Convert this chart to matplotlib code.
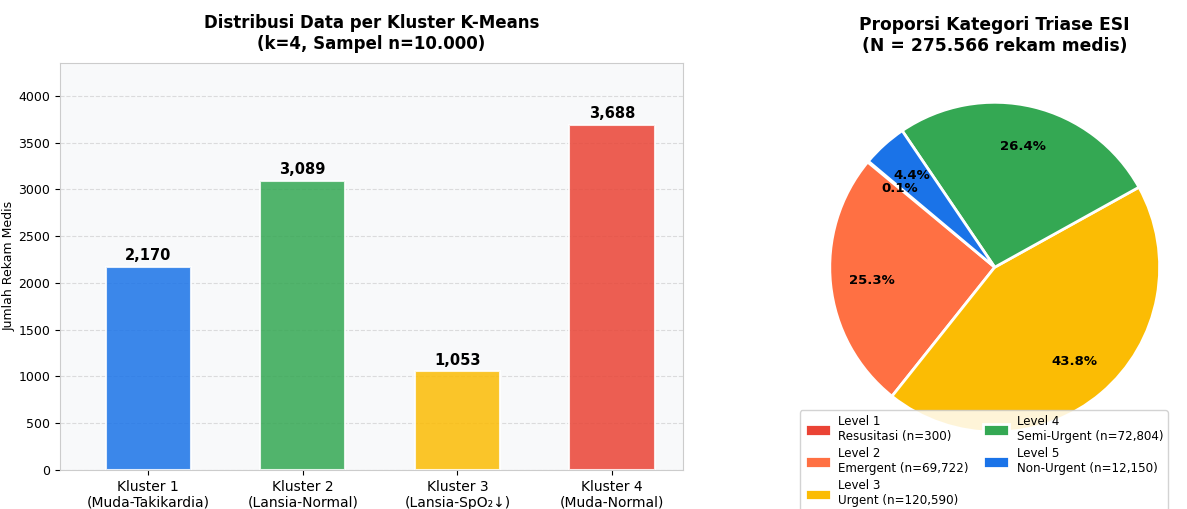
import numpy as np
import matplotlib.pyplot as plt

# data
clusters = ['Kluster 1\n(Muda-Takikardia)', 'Kluster 2\n(Lansia-Normal)',
            'Kluster 3\n(Lansia-SpO₂↓)', 'Kluster 4\n(Muda-Normal)']
cluster_counts = [2170, 3089, 1053, 3688]
cluster_colors = ['#1A73E8', '#34A853', '#FBBC04', '#EA4335']

esi_levels = ['Level 1\nResusitasi (n=300)', 'Level 2\nEmergent (n=69,722)',
              'Level 3\nUrgent (n=120,590)', 'Level 4\nSemi-Urgent (n=72,804)',
              'Level 5\nNon-Urgent (n=12,150)']
esi_counts = [300, 69722, 120590, 72804, 12150]
esi_colors = ['#EA4335', '#FF7043', '#FBBC04', '#34A853', '#1A73E8']

fig = plt.figure(figsize=(11.87, 5.09), dpi=100)

# bar chart
ax1 = fig.add_axes([0.0505, 0.0766, 0.525, 0.80])
ax1.set_facecolor('#f8f9fa')
x = np.arange(len(clusters))
bars = ax1.bar(x, cluster_counts, width=0.55, color=cluster_colors, alpha=0.85,
               edgecolor='white', linewidth=1.5, zorder=3)
for b, v in zip(bars, cluster_counts):
    ax1.text(b.get_x() + b.get_width() / 2, v + 40, f'{v:,}', ha='center', va='bottom',
             fontsize=10.5, fontweight='bold')
ax1.set_xticks(x)
ax1.set_xticklabels(clusters, fontsize=10)
ax1.set_ylabel('Jumlah Rekam Medis', fontsize=9, labelpad=2)
ax1.set_ylim(0, max(cluster_counts) * 1.18)
ax1.set_xlim(-0.57, 3.46)
ax1.yaxis.grid(True, linestyle='--', alpha=0.4, zorder=0)
ax1.tick_params(axis='y', labelsize=9)
for s in ax1.spines.values():
    s.set_color('#cccccc')
ax1.set_title('Distribusi Data per Kluster K-Means\n(k=4, Sampel n=10.000)',
              fontsize=12, fontweight='bold', pad=10)

# pie chart
ax2 = fig.add_axes([0.699, 0.151, 0.278, 0.648])
wedges, texts, autotexts = ax2.pie(esi_counts, colors=esi_colors, startangle=140,
                                   autopct='%1.1f%%', pctdistance=0.75,
                                   wedgeprops=dict(edgecolor='white', linewidth=2),
                                   textprops=dict(fontsize=9.5, fontweight='bold'))
ax2.set_aspect('equal')
ax2.set_xlim(-1.0, 1.0)
ax2.set_ylim(-1.0, 1.0)
fig.text(0.838, 0.968, 'Proporsi Kategori Triase ESI\n(N = 275.566 rekam medis)',
         ha='center', va='top', fontsize=12.3, fontweight='bold')

fig.legend(wedges, esi_levels, loc='upper left', bbox_to_anchor=(0.674, 0.194),
           ncol=2, fontsize=8.6, framealpha=0.85, handlelength=2.2, handleheight=1.1,
           borderaxespad=0, labelspacing=0.35, columnspacing=1.2, handletextpad=0.6)

plt.savefig('out.png', dpi=100)
